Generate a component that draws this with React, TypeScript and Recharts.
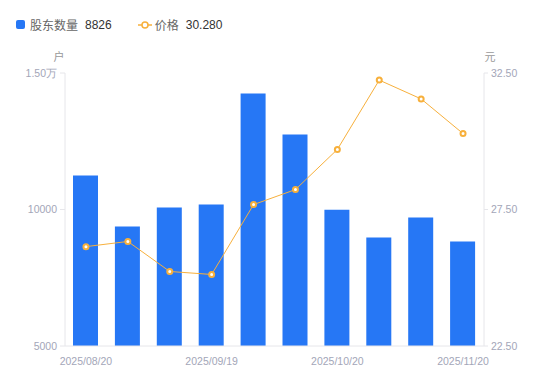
import { ComposedChart, Bar, Line, XAxis, YAxis } from "recharts";

const dates = [
  "2025/08/20", "2025/08/29", "2025/09/10", "2025/09/19", "2025/09/30",
  "2025/10/10", "2025/10/20", "2025/10/31", "2025/11/10", "2025/11/20",
];
const holders = [11250, 9380, 10070, 10180, 14250, 12750, 9990, 8970, 9710, 8826];
const prices = [26.14, 26.33, 25.23, 25.12, 27.68, 28.23, 29.7, 32.24, 31.55, 30.28];
const leftTicks = [5000, 10000, 15000];
const rightTicks = [22.5, 27.5, 32.5];

const data = dates.map((d, i) => ({ date: d, holders: holders[i], price: prices[i] }));

const BLUE = "#2677f5";
const ORANGE = "#f7b03c";
const TICK = { fontSize: 10.5, fill: "#a3a6b8", fontFamily: "Liberation Sans, Arial, sans-serif" };
const AXIS = "#e6e6ea";

const fmtLeft = (v: number) => (v >= 10000 && v % 10000 !== 0 ? (v / 10000).toFixed(2) + "万" : v >= 15000 ? (v / 10000).toFixed(2) + "万" : String(v));

function Legend() {
  const last = data.length - 1;
  return (
    <div style={{ position: "absolute", left: 16, top: 16, display: "flex", alignItems: "center", fontSize: 12, color: "#333", fontFamily: "Noto Sans CJK SC, sans-serif" }}>
      <span style={{ width: 9, height: 9, background: BLUE, borderRadius: 2, display: "inline-block", marginRight: 5 }} />
      <span style={{ color: "#666" }}>股东数量</span>
      <span style={{ marginLeft: 7, fontFamily: "Liberation Sans, Arial, sans-serif" }}>{holders[last]}</span>
      <svg width="14" height="10" style={{ marginLeft: 26, marginRight: 3 }}>
        <line x1="0" y1="5" x2="14" y2="5" stroke={ORANGE} strokeWidth="1.5" />
        <circle cx="7" cy="5" r="3" fill="#fff" stroke={ORANGE} strokeWidth="1.5" />
      </svg>
      <span style={{ color: "#666" }}>价格</span>
      <span style={{ marginLeft: 7, fontFamily: "Liberation Sans, Arial, sans-serif" }}>{prices[last].toFixed(3)}</span>
    </div>
  );
}

export default function App() {
  return (
    <div style={{ position: "absolute", left: 0, top: 0, width: 550, height: 381, background: "#fff" }}>
      <Legend />
      <ComposedChart width={550} height={381} data={data} margin={{ top: 73, right: 0, bottom: 5, left: 0 }}>
        <XAxis
          dataKey="date"
          interval={2}
          tick={TICK}
          tickLine={false}
          axisLine={{ stroke: AXIS }}
          height={30}
          tickMargin={6}
        />
        <YAxis
          yAxisId="l"
          width={65}
          domain={[5000, 15000]}
          ticks={leftTicks}
          tickFormatter={fmtLeft}
          tick={TICK}
          tickSize={5}
          tickMargin={3}
          tickLine={{ stroke: AXIS }}
          axisLine={{ stroke: AXIS }}
          allowDataOverflow
          label={({ viewBox }: any) => (
            <text x={viewBox.x + viewBox.width - 6} y={viewBox.y - 12} textAnchor="middle" fontSize={11} fill="#999" fontFamily="Noto Sans CJK SC">户</text>
          )}
        />
        <YAxis
          yAxisId="r"
          orientation="right"
          width={66}
          domain={[22.5, 32.5]}
          ticks={rightTicks}
          tickFormatter={(v: number) => v.toFixed(2)}
          tick={TICK}
          tickSize={4}
          tickMargin={3}
          tickLine={{ stroke: AXIS }}
          axisLine={{ stroke: AXIS }}
          allowDataOverflow
          label={({ viewBox }: any) => (
            <text x={viewBox.x + 6} y={viewBox.y - 12} textAnchor="middle" fontSize={11} fill="#999" fontFamily="Noto Sans CJK SC">元</text>
          )}
        />
        <Bar yAxisId="l" dataKey="holders" fill={BLUE} barSize={25} isAnimationActive={false} />
        <Line
          yAxisId="r"
          dataKey="price"
          type="linear"
          stroke={ORANGE}
          strokeWidth={1}
          dot={{ r: 2.5, fill: "#fff", stroke: ORANGE, strokeWidth: 2 }}
          isAnimationActive={false}
        />
      </ComposedChart>
    </div>
  );
}
